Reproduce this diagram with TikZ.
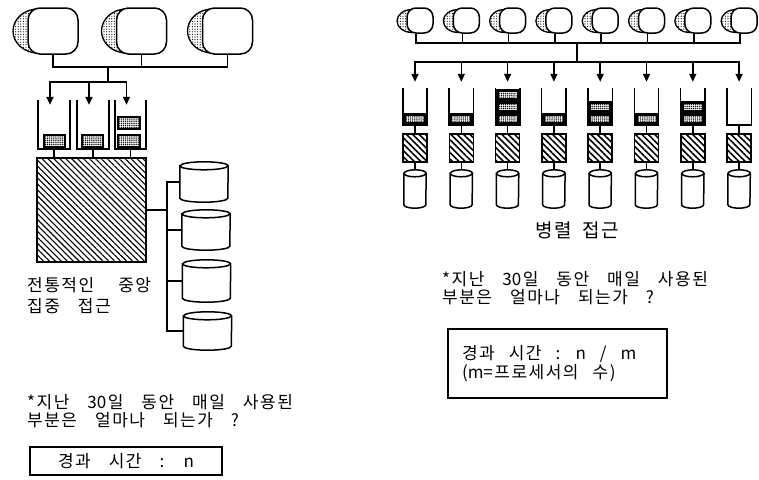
\documentclass[tikz,border=0pt]{standalone}
\usepackage{fontspec}
\newfontfamily\kr{Noto Sans CJK KR}
\usetikzlibrary{patterns.meta,shapes.geometric,arrows.meta}

% wider tracking for Hangul syllables
\XeTeXinterchartokenstate=1
\newXeTeXintercharclass\hgcls
\newcount\hgc
\hgc="AC00
\loop\ifnum\hgc<"D7A4 \XeTeXcharclass\hgc=\hgcls \advance\hgc by 1 \repeat
\XeTeXinterchartoks\hgcls\hgcls={\kern1.5pt}
\XeTeXinterchartoks\hgcls 0={\kern1.5pt}
\XeTeXinterchartoks 0\hgcls={\kern1.5pt}

% Korean text at a given size, leading and word gap
\newcommand\krset[3]{\kr\fontsize{#1}{#2}\selectfont\spaceskip=#3\relax}

% filled block with a dotted core
\newcommand\qblock[5]{%
  \fill ({#1},{#2}) rectangle ({#3},{#4});
  \fill[white] ({#1+#5},{#2+#5}) rectangle ({#3-#5},{#4-#5});
  \fill[dotfill] ({#1+#5},{#2+#5}) rectangle ({#3-#5},{#4-#5});
}
% upright drum outline over a node: name, half width, end radius
\newcommand\drum[3]{%
  \draw[ln,fill=white] ([yshift=-#3pt]#1.north west) -- ([yshift=#3pt]#1.south west)
    arc[start angle=180,end angle=0,x radius=#2,y radius=#3]
    -- ([yshift=-#3pt]#1.north east)
    arc[start angle=0,end angle=-180,x radius=#2,y radius=#3] -- cycle;
  \draw[ln] ([yshift=-#3pt]#1.north west) arc[start angle=180,end angle=0,x radius=#2,y radius=#3];
}

\tikzset{
  ln/.style={line width=1.5pt},
  dotfill/.style={pattern={Dots[distance=1.9pt,radius=0.7pt]}},
  hatch/.style={pattern={Lines[angle=-45,distance=4.2pt,line width=1.1pt]}},
  arr/.style={ln,-{Triangle[width=7pt,length=8pt]}},
  userfront/.style={draw,line width=1.5pt,fill=white,rounded corners=#1,inner sep=0pt},
  userback/.style={ellipse,draw,line width=1.3pt,inner sep=0pt,pattern={Dots[distance=2.6pt,radius=0.6pt]}},
  bufbox/.style={inner sep=0pt,minimum width=#1},
  procbox/.style={draw,line width=1.5pt,hatch,inner sep=0pt},
  drumbox/.style={inner sep=0pt},
  txt/.style={inner sep=0pt,align=flush left},
}

\begin{document}
\begin{tikzpicture}[x=1pt,y=-1pt]
\useasboundingbox (0,0) rectangle (759,479);

%% ---------- centralised access (left) ----------
% users
\foreach \i/\cx in {1/53,2/141.5,3/227.5}{
  \node[userback,minimum width=50pt,minimum height=44pt] (ub\i) at (\cx-15,31) {};
  \node[userfront=12,minimum width=50pt,minimum height=46pt] (u\i) at (\cx,31) {};
}
\coordinate (lbus) at (108,67);
\coordinate (lsplit) at (108,82);
\draw[ln] (u1.south) |- (lbus) -| (u3.south);
\draw[ln] (u2.south) -- (u2.south |- lbus);
\draw[ln] (lbus) -- (lsplit);

% request buffers
\node[bufbox=32pt,minimum height=49pt] (b1) at (54,124.5) {};
\node[bufbox=32pt,minimum height=49pt] (b2) at (93,124.5) {};
\node[bufbox=31pt,minimum height=49pt] (b3) at (130.5,124.5) {};
\foreach \i in {1,2,3}{
  \draw[ln] (b\i.north west) -- (b\i.south west) -- (b\i.south east) -- (b\i.north east);
  \draw[arr] (lsplit) -| ([xshift=-4pt,yshift=-5pt]b\i.north);
}
\qblock{43}{134}{66}{148}{2}
\qblock{81}{134}{104}{148}{2}
\qblock{117}{134}{141}{148}{2}
\qblock{117}{116}{141}{130}{2}

% central processor
\node[procbox,minimum width=109pt,minimum height=104pt] (P) at (91.5,210) {};
\foreach \i in {1,2,3}{
  \draw[ln] (b\i.south) -- (b\i.south |- P.north);
}

% disks
\node[drumbox,minimum width=48pt,minimum height=40pt] (d1) at (204,182) {};
\node[drumbox,minimum width=48pt,minimum height=40pt] (d2) at (206,230) {};
\node[drumbox,minimum width=48pt,minimum height=42pt] (d3) at (206.5,281) {};
\node[drumbox,minimum width=48pt,minimum height=38pt] (d4) at (207.5,331) {};
\foreach \i in {1,2,3,4}{ \drum{d\i}{24}{4} }
\coordinate (dj) at (167,210);
\draw[ln] (P.east) -- (dj);
\foreach \i in {1,2,3,4}{
  \draw[ln] (d\i.west) -| (dj);
}

\node[txt,anchor=north west,font=\krset{17pt}{21pt}{18pt}] (tl) at (27,277) {전통적인\hspace{24pt}중앙\\집중 접근};
\node[txt,anchor=north west,font=\krset{17pt}{18pt}{18pt}] (ql) at (27,394) {*지난 30일 동안 매일 사용된\\부분은 얼마나 되는가 ?};
\node[draw,line width=1.5pt,minimum width=192pt,minimum height=28pt,inner sep=0pt,font=\krset{17pt}{18pt}{18pt}] (el) at (126,461) {경과 시간 : n};

%% ---------- parallel access (right) ----------
\foreach \i/\n in {1/1,2/1,3/3,4/1,5/2,6/1,7/2,8/0}{
  \pgfmathsetmacro\cc{415+46.3*(\i-1)}
  \node[userback,minimum width=30pt,minimum height=23pt] (vb\i) at (\cc-3,21) {};
  \node[userfront=9,minimum width=26pt,minimum height=25pt] (v\i) at (\cc+5,20.5) {};
  \node[bufbox=24pt,minimum height=37pt] (r\i) at (\cc,106.5) {};
  \node[procbox,minimum width=24pt,minimum height=28pt,pattern={Lines[angle=-45,distance=4.5pt,line width=1.6pt]}] (q\i) at (\cc,148) {};
  \node[drumbox,minimum width=22pt,minimum height=38pt] (k\i) at (\cc,189) {};
  \drum{k\i}{11}{3.5}
  \ifnum\n>0
    \foreach \j in {1,...,\n}{
      \qblock{\cc-12}{125-12*\j}{\cc+12}{125-12*(\j-1)}{3}
    }
  \fi
  \draw[ln] (r\i.north west) -- (r\i.south west) -- (r\i.south east) -- (r\i.north east);
  \draw[ln] (r\i.south) -- (q\i.north);
  \draw[ln] (q\i.south) -- (k\i.north);
}
\coordinate (rbus) at (577,43);
\coordinate (rsplit) at (577,62);
\draw[ln] ([xshift=-4pt]v1.south) |- (rbus) -| ([xshift=-4pt]v8.south);
\foreach \i in {2,...,7}{
  \draw[ln] ([xshift=-4pt]v\i.south) -- ([xshift=-4pt]v\i.south |- rbus);
}
\draw[ln] (rbus) -- (rsplit);
\foreach \i in {1,...,8}{
  \draw[arr] (rsplit) -| ([yshift=6pt]r\i.north);
}

\node[font=\krset{19pt}{20pt}{11pt},inner sep=0pt] (tp) at (577,230) {병렬 접근};
\node[txt,anchor=north west,font=\krset{17pt}{18pt}{18pt}] (qr) at (442,271) {*지난 30일 동안 매일 사용된\\부분은 얼마나 되는가 ?};
\node[draw,line width=1.5pt,text width=191pt,minimum height=69pt,inner xsep=14pt,inner ysep=0pt,align=flush left,font=\krset{17pt}{18.5pt}{14pt}] (er) at (557.5,363.5) {경과 시간 : n / m\\(m=프로세서의 수)};
\end{tikzpicture}
\end{document}
